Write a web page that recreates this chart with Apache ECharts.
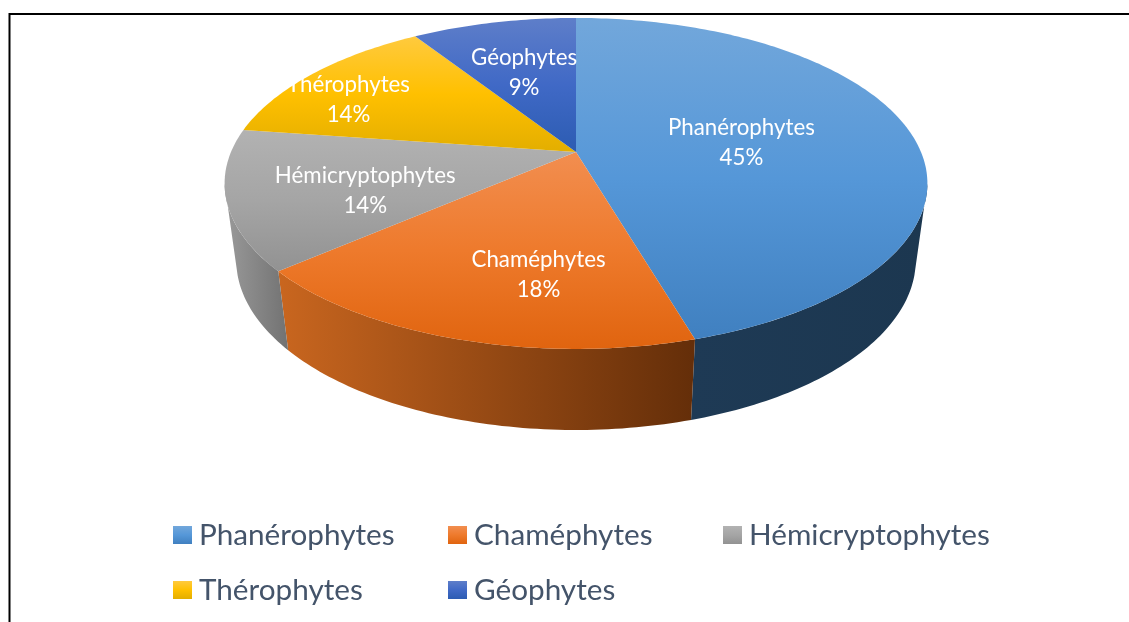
<!DOCTYPE html>
<html>
<head>
<meta charset="utf-8">
<style>
  html, body { margin: 0; padding: 0; background: #fff; }
  #main { width: 1129px; height: 622px; }
</style>
</head>
<body>
<div id="main"></div>
<script src="https://cdn.jsdelivr.net/npm/echarts@6/dist/echarts.min.js"></script>
<script>
// values (labels are these, rounded)
var categories = ['Phanérophytes', 'Chaméphytes', 'Hémicryptophytes', 'Thérophytes', 'Géophytes'];
var shares = [45.45, 18.18, 13.64, 13.64, 9.09];

// colours per slice: face gradient stops, then wall gradient left/right
var faceColors = [
    ['#72a7db', '#5597d8', '#4080c0'],
    ['#f28e50', '#ee7a2c', '#e0640f'],
    ['#b2b2b2', '#a5a5a5', '#929292'],
    ['#ffca3e', '#ffc000', '#e3ae00'],
    ['#5e7ec9', '#4069c6', '#2c5cb2']
];
var wallColors = [
    ['#1e3a55', '#1c3750'],
    ['#c9661f', '#642e09'],
    ['#9a9a9a', '#727272'],
    ['#888888', '#888888'],
    ['#888888', '#888888']
];
// where each label sits on the disk: [fraction of radius, degrees clockwise from top]
var labelSpots = [[0.488, 83.3], [0.68, 188], [0.628, 248.4], [0.785, 296.4], [0.575, 343.2]];

// perspective disk, top face and bottom edge of the drum
var cx = 576, persp = 0.19;
var topDisk = { a: 345, b: 159.5, y0: 152 };
var lowDisk = { a: 333.6, b: 164, y0: 227.5 };
var wallFrom = 101, wallTo = 259;   // visible part of the rim, degrees
var lowFrom = 106, lowTo = 254;

function project(disk, deg, r) {
    var t = deg * Math.PI / 180;
    var u = Math.sin(t) * r, v = Math.cos(t) * r;
    var w = 1 + persp * v;
    return [cx + disk.a * u / w, disk.y0 - disk.b * v / w];
}

function arc(disk, from, to) {
    var pts = [];
    var n = Math.max(2, Math.ceil(Math.abs(to - from)));
    for (var i = 0; i <= n; i++) {
        pts.push(project(disk, from + (to - from) * i / n, 1));
    }
    return pts;
}

function faceGradient(i) {
    return new echarts.graphic.LinearGradient(0, 0, 0, 1, [
        { offset: 0, color: faceColors[i][0] },
        { offset: 0.5, color: faceColors[i][1] },
        { offset: 1, color: faceColors[i][2] }
    ]);
}

var total = shares.reduce(function (a, b) { return a + b; }, 0);
var startDeg = [];
shares.reduce(function (acc, s, i) { startDeg[i] = acc; return acc + s / total * 360; }, 0);

function makeRender(i) {
    return function (params, api) {
        var from = startDeg[i];
        var to = from + api.value(0) / total * 360;
        var children = [];

        var wa = Math.max(from, wallFrom), wb = Math.min(to, wallTo);
        if (wa < wb) {
            var la = Math.max(from, lowFrom), lb = Math.min(to, lowTo);
            var wallPts = arc(topDisk, wa, wb).concat(arc(lowDisk, lb, la));
            children.push({
                type: 'polygon',
                z2: 1,
                shape: { points: wallPts },
                style: {
                    fill: new echarts.graphic.LinearGradient(0, 0, 1, 0, [
                        { offset: 0, color: wallColors[i][0] },
                        { offset: 1, color: wallColors[i][1] }
                    ])
                }
            });
        }

        children.push({
            type: 'polygon',
            z2: 2,
            shape: { points: [project(topDisk, 0, 0)].concat(arc(topDisk, from, to)) },
            style: { fill: faceGradient(i) }
        });

        var spot = project(topDisk, labelSpots[i][1], labelSpots[i][0]);
        children.push({
            type: 'text',
            z2: 3,
            style: {
                x: spot[0],
                y: spot[1],
                text: categories[i] + '\n' + Math.round(api.value(0)) + '%',
                fill: '#ffffff',
                fontFamily: 'Lato',
                fontSize: 22.3,
                lineHeight: 30,
                align: 'center',
                verticalAlign: 'middle'
            }
        });
        return { type: 'group', children: children };
    };
}

var series = categories.map(function (name, i) {
    return {
        type: 'custom',
        name: name,
        coordinateSystem: 'none',
        silent: true,
        itemStyle: { color: faceColors[i][1] },
        data: [[shares[i]]],
        renderItem: makeRender(i)
    };
});

function legendColumn(left, top, idx) {
    return {
        left: left,
        top: top,
        orient: 'vertical',
        selectedMode: false,
        itemWidth: 19,
        itemHeight: 18,
        itemGap: 25,
        padding: 0,
        textStyle: { color: '#44546a', fontFamily: 'Lato', fontSize: 29.7, padding: [0, 0, 0, 2] },
        data: idx.map(function (i) {
            return { name: categories[i], icon: 'rect', itemStyle: { color: faceGradient(i) } };
        })
    };
}

var myChart = echarts.init(document.getElementById('main'), null, { renderer: 'canvas' });
myChart.setOption({
    animation: false,
    backgroundColor: '#ffffff',
    legend: [
        legendColumn(173, 520, [0, 3]),
        legendColumn(448, 520, [1, 4]),
        legendColumn(723, 520, [2])
    ],
    // frame of the original screenshot: top and left edges only
    graphic: [
        { type: 'line', silent: true, shape: { x1: 9, y1: 14, x2: 1129, y2: 14 }, style: { stroke: '#000', lineWidth: 2 } },
        { type: 'line', silent: true, shape: { x1: 9.5, y1: 13, x2: 9.5, y2: 622 }, style: { stroke: '#000', lineWidth: 2 } }
    ],
    series: series
});
</script>
</body>
</html>
